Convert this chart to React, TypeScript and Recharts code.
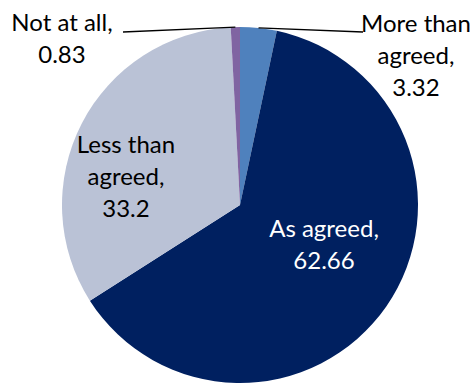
import React from "react";
import { PieChart, Pie, Cell } from "recharts";

const categories = ["More than agreed", "As agreed", "Less than agreed", "Not at all"];
const values = [3.32, 62.66, 33.2, 0.83];
const colors = ["#4F81BD", "#002060", "#BAC2D6", "#8064A2"];
// how each data label wraps in the original
const labelText = [
  ["More than", "agreed,", "3.32"],
  ["As agreed,", "62.66"],
  ["Less than", "agreed,", "33.2"],
  ["Not at all,", "0.83"],
];

const data = categories.map((name, i) => ({ name, value: values[i] }));

// label anchor (relative to pie centre), first baseline, and optional leader end
const labelLayout = [
  { dx: 176, dy: -173, color: "#000", leader: { x: 123, y: -173 } },
  { dx: 84, dy: 32, color: "#fff" },
  { dx: -114, dy: -52, color: "#000" },
  { dx: -178, dy: -174, color: "#000", leader: { x: -117, y: -173 } },
];

const RAD = Math.PI / 180;
const LINE_H = 32;

function renderLabel(props: any) {
  const { cx, cy, midAngle, outerRadius, index } = props;
  const layout = labelLayout[index];
  const lines = labelText[index];
  let leader = null;
  if (layout.leader) {
    const px = cx + outerRadius * Math.cos(-midAngle * RAD);
    const py = cy + outerRadius * Math.sin(-midAngle * RAD);
    leader = (
      <line
        x1={px}
        y1={py}
        x2={cx + layout.leader.x}
        y2={cy + layout.leader.y}
        stroke="#000"
        strokeWidth={1.3}
      />
    );
  }
  return (
    <g key={`lbl-${index}`}>
      {leader}
      <text
        x={cx + layout.dx}
        y={cy + layout.dy}
        textAnchor="middle"
        fill={layout.color}
        fontSize={24}
        fontFamily="Lato, 'Open Sans', sans-serif"
      >
        {lines.map((t, i) => (
          <tspan key={i} x={cx + layout.dx} y={cy + layout.dy + i * LINE_H}>
            {t}
          </tspan>
        ))}
      </text>
    </g>
  );
}

export default function App() {
  return (
    <div style={{ position: "absolute", left: 0, top: 0, width: 476, height: 383, background: "#fff" }}>
      <PieChart width={476} height={383} margin={{ top: 0, right: 0, bottom: 0, left: 0 }}>
        <Pie
          data={data}
          dataKey="value"
          nameKey="name"
          cx={240}
          cy={205}
          outerRadius={178}
          startAngle={90}
          endAngle={-270}
          stroke="none"
          label={renderLabel}
          labelLine={false}
          isAnimationActive={false}
        >
          {data.map((d, i) => (
            <Cell key={d.name} fill={colors[i]} />
          ))}
        </Pie>
      </PieChart>
    </div>
  );
}
